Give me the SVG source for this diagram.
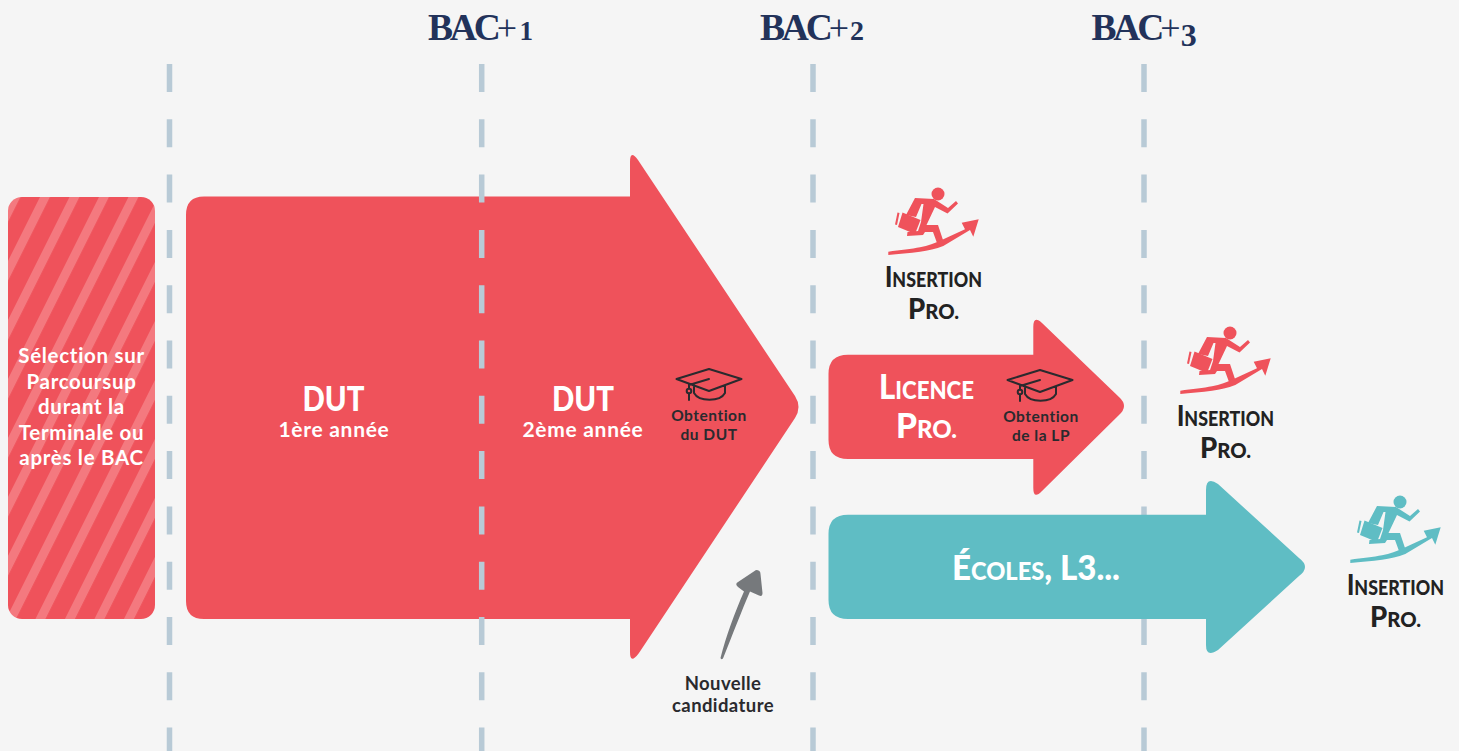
<svg xmlns="http://www.w3.org/2000/svg" width="1459" height="751" viewBox="0 0 1459 751">
<style>
.dash{stroke:#b8cad6;stroke-width:5.5;stroke-dasharray:28 27.3;fill:none}
.red{fill:#ef525b}
.teal{fill:#5fbdc4}
.bac{font:700 37.500px "Liberation Serif",serif;fill:#22325a;letter-spacing:-3.2px}
.bac .p{font-weight:400;font-size:36px;letter-spacing:0}
.bac .d{letter-spacing:0}
.w{font-family:"Lato","Noto Sans",sans-serif;fill:#fff;text-anchor:middle;font-weight:700}
.sel{font-size:20.500px;letter-spacing:.7px}
.big{font-size:35px;font-weight:900}
.sub{font-size:21px;letter-spacing:.7px}
.lg{font-size:35px;font-weight:900}
.lg .s{font-size:25px}
.cap{font-family:"Lato","Noto Sans",sans-serif;font-weight:700;fill:#2a2a2e;text-anchor:middle}
.ob{font-size:15.500px;letter-spacing:.5px}
.nc{font-size:18.500px;letter-spacing:.4px}
.ins{font-family:"Lato","Noto Sans",sans-serif;font-weight:900;text-anchor:middle;fill:#222;font-size:28.500px}
.ins .s{font-size:21px}
.hat{fill:none;stroke:#2a2a2e;stroke-width:2;stroke-linejoin:round;stroke-linecap:round}
</style>
<defs>
<pattern id="st" width="29.5" height="60" patternUnits="userSpaceOnUse" patternTransform="translate(20.500 0) skewX(-26.570)">
<rect width="29.5" height="60" fill="#ef525b"/><rect width="10" height="60" fill="#f4797f"/>
</pattern>
<g id="hat">
<path class="hat" d="M-32.500 -1 L0 -11 L32.500 -1 L0 11Z M-20 20 V5 L0 -1 M-15 7 V13 C-10 22 11 22 16 13 V5"/>
<circle cx="-20" cy="11" r="2.300" fill="#ef525b" stroke="#2a2a2e" stroke-width="2"/>
</g>
<g id="run">
<circle cx="50" cy="8" r="6.500"/>
<path d="M27 12 L46 13 L60 22 L68 15 L70 17.500 L59.500 27.500 L47 21 L38.500 39 L50 39 L55 54 L49 57 L45 46 L37 46 L35 49 L19 50 L19.500 46 L30 45 L33 36 L35.500 18 L33.500 18 L28 31 L18 29Z"/>
<path d="M14.500 26.500 L32.500 34 L27 48 L10 41Z"/>
<path d="M9.500 26.500 L11.500 27 L9 39 L7 38.500Z"/>
<path d="M0.300 65.700 C12 64 24 63 32 61.300 C40 60 47 57 53.700 54 L77 43.300 L73.700 36.700 L90.700 33.300 L85.300 50.700 L82 44 L55.300 60 C48 63 40 64.500 32 65.700 C22 67 10 68 0.300 69Z"/>
</g>
</defs>
<rect width="1459" height="751" fill="#f5f5f5"/>
<g id="dut">
<path class="red" d="M204 196.500 H630 V162 Q630 149 638 160 L795 396 Q802 407 795 418 L639 653 Q630 665 630 652 V619 H204 Q186 619 186 601 V215 Q186 196.500 204 196.500Z"/>
</g>
<g id="connectors">
<path class="dash" d="M169.500 64V751"/>
<path class="dash" d="M481.700 64V751"/>
<path class="dash" d="M813 64V751"/>
<path class="dash" d="M1144 64V751"/>
<path d="M756 570 Q760.500 570 760.500 574 L762.500 593 Q762.500 597 759 595.500 L750 591.500 C742 610 732 636 723 658.500 Q721 660 720.500 658 C726 636 735 612 744 591.500 L738 587 Q734.500 584 738 582Z" fill="#76797c"/>
</g>
<g id="bac">
<text class="bac" x="428" y="39.500">BAC<tspan class="p" x="496.800">+</tspan><tspan class="d" x="519.500" style="font-size:27px">1</tspan></text>
<text class="bac" x="760" y="39.500">BAC<tspan class="p" x="828.800">+</tspan><tspan class="d" x="850" style="font-size:28px">2</tspan></text>
<text class="bac" x="1091.500" y="39.500">BAC<tspan class="p" x="1160.300">+</tspan><tspan class="d" x="1180.800" y="46" style="font-size:32px">3</tspan></text>
</g>
<g id="selection">
<rect x="8" y="197" width="147" height="422" rx="14" fill="url(#st)"/>
<text class="w sel" x="81.500" y="363">Sélection sur</text><text class="w sel" x="81.500" y="389">Parcoursup</text><text class="w sel" x="81.500" y="414">durant la</text><text class="w sel" x="81.500" y="440">Terminale ou</text><text class="w sel" x="81.500" y="465">après le BAC</text>
</g>
<g id="dut-labels">
<text class="w big" x="333.500" y="410.500" textLength="62" lengthAdjust="spacingAndGlyphs">DUT</text><text class="w sub" x="334" y="436.500">1ère année</text>
<text class="w big" x="583" y="410.500" textLength="62" lengthAdjust="spacingAndGlyphs">DUT</text><text class="w sub" x="583" y="436.500">2ème année</text>
<use href="#hat" x="709" y="380"/>
<text class="cap ob" x="709" y="421">Obtention</text><text class="cap ob" x="709" y="440">du DUT</text>
</g>
<g id="licence">
<path class="red" d="M848 354.700 H1033.300 V327 Q1033.300 315 1042 323 L1119 397 Q1129 406 1119 415 L1042 491 Q1033.300 500 1033.300 488 V459 H848 Q828.500 459 828.500 440 V374 Q828.500 354.700 848 354.700Z"/>
<text class="w lg" x="879" y="399" textLength="95" lengthAdjust="spacingAndGlyphs" style="text-anchor:start">L<tspan class="s">ICENCE</tspan></text>
<text class="w lg" x="896" y="438" textLength="61" lengthAdjust="spacingAndGlyphs" style="text-anchor:start">P<tspan class="s">RO.</tspan></text>
<use href="#hat" x="1040" y="381"/>
<text class="cap ob" x="1041" y="422">Obtention</text><text class="cap ob" x="1041" y="441">de la LP</text>
</g>
<g id="ecoles">
<path class="teal" d="M848 514.700 H1206 V490 Q1206 476 1218 484 L1299 558 Q1311 567 1299 576 L1218 650 Q1206 658 1206 645 V619 H848 Q828.500 619 828.500 600 V534 Q828.500 514.700 848 514.700Z"/>
<text class="w lg" x="952" y="580" textLength="168" lengthAdjust="spacingAndGlyphs" style="text-anchor:start">É<tspan class="s">COLES</tspan>, L3...</text>
</g>
<g id="insertion1">
<use href="#run" x="888" y="186" fill="#ef525b"/>
<text class="ins" x="885" y="287" textLength="97" lengthAdjust="spacingAndGlyphs" style="text-anchor:start">I<tspan class="s">NSERTION</tspan></text>
<text class="ins" x="908" y="319" textLength="51" lengthAdjust="spacingAndGlyphs" style="text-anchor:start">P<tspan class="s">RO.</tspan></text>
</g>
<g id="insertion2">
<use href="#run" x="1180" y="325" fill="#ef525b"/>
<text class="ins" x="1177" y="426" textLength="97" lengthAdjust="spacingAndGlyphs" style="text-anchor:start">I<tspan class="s">NSERTION</tspan></text>
<text class="ins" x="1200" y="458" textLength="51" lengthAdjust="spacingAndGlyphs" style="text-anchor:start">P<tspan class="s">RO.</tspan></text>
</g>
<g id="insertion3">
<use href="#run" x="1350" y="494" fill="#5fbdc4"/>
<text class="ins" x="1347" y="595" textLength="97" lengthAdjust="spacingAndGlyphs" style="text-anchor:start">I<tspan class="s">NSERTION</tspan></text>
<text class="ins" x="1370" y="627" textLength="51" lengthAdjust="spacingAndGlyphs" style="text-anchor:start">P<tspan class="s">RO.</tspan></text>
</g>
<g id="nouvelle"><text class="cap nc" x="723" y="690">Nouvelle</text><text class="cap nc" x="723" y="712">candidature</text></g>
</svg>
